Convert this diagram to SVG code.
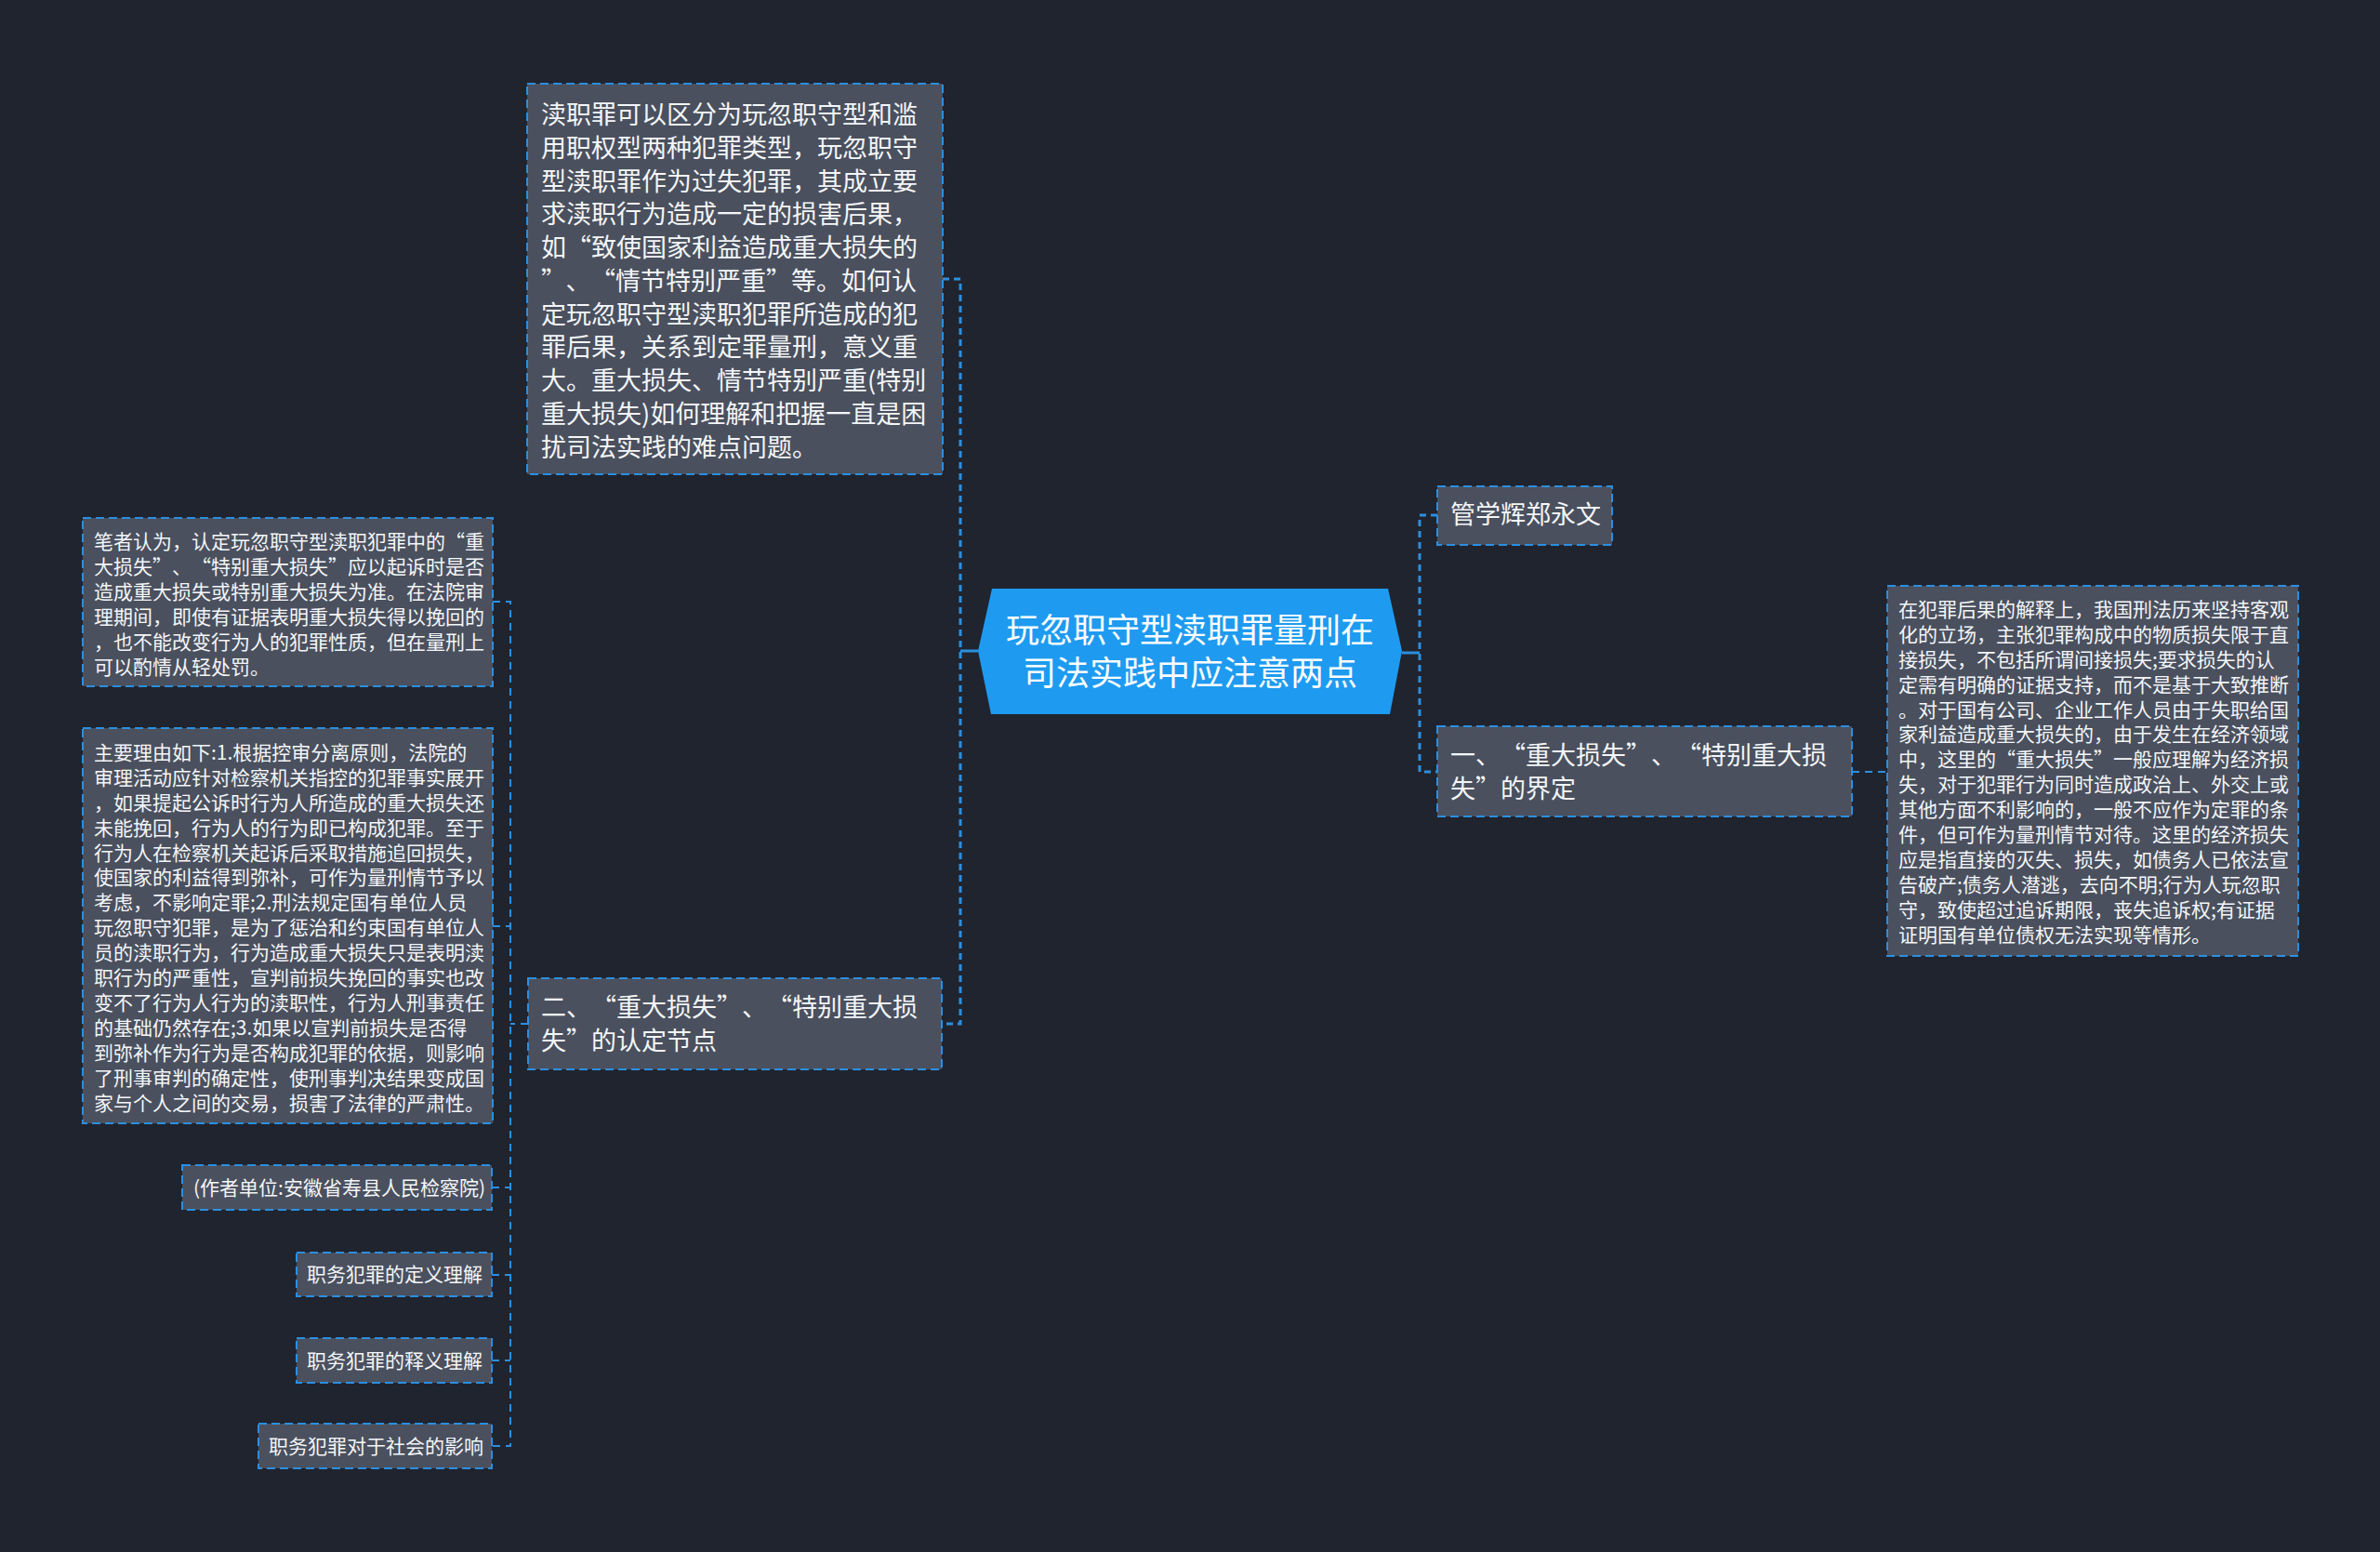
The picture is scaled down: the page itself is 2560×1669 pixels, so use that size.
<svg xmlns="http://www.w3.org/2000/svg" width="2560" height="1669" viewBox="0 0 2560 1669">
<style>
.bg{fill:#20242f}
.node rect{fill:#4a505e;stroke:#2b8fe0;stroke-width:2;stroke-dasharray:9 5}
.t{font-family:"Noto Sans CJK SC","Noto Sans",sans-serif;fill:#f4f6f8}
.big{font-size:27px}
.small{font-size:21px}
.ctr{font-family:"Noto Sans CJK SC","Noto Sans",sans-serif;fill:#ffffff;font-size:36px;text-anchor:middle}
.main{fill:none;stroke:#2b8fe0;stroke-width:3;stroke-dasharray:7 5}
.solid{fill:none;stroke:#2b8fe0;stroke-width:3}
.sub{fill:none;stroke:#2b8fe0;stroke-width:2;stroke-dasharray:8 6}
</style>
<rect class="bg" x="0" y="0" width="2560" height="1669"/>
<g id="connectors">
<path class="solid" d="M1052,700 H1033"/>
<path class="main" d="M1014,300 H1033 V1101 H1013"/>
<path class="solid" d="M1508,702 H1527"/>
<path class="main" d="M1546,554 H1527 V830 H1546"/>
<path class="sub" d="M1992,830 H2030"/>
<path class="sub" d="M568,1101 H549"/>
<path class="sub" d="M530,647 H549 V1555 H529"/>
<path class="sub" d="M530,996 H549"/>
<path class="sub" d="M529,1277 H549"/>
<path class="sub" d="M529,1371 H549"/>
<path class="sub" d="M529,1463 H549"/>
</g>
<g id="center">
<polygon points="1052,700 1067,633 1493,633 1508,700 1495,768 1066,768" fill="#1e9bf0"/>
<text class="ctr"><tspan x="1280" y="691">玩忽职守型渎职罪量刑在</tspan><tspan x="1280" y="737">司法实践中应注意两点</tspan></text>
</g>
<g id="n-top" class="node">
<rect x="567" y="90" width="447" height="420"/>
<text class="t big"><tspan x="582" y="133">渎职罪可以区分为玩忽职守型和滥</tspan><tspan x="582" y="169">用职权型两种犯罪类型，玩忽职守</tspan><tspan x="582" y="205">型渎职罪作为过失犯罪，其成立要</tspan><tspan x="582" y="240">求渎职行为造成一定的损害后果，</tspan><tspan x="582" y="276">如“致使国家利益造成重大损失的</tspan><tspan x="582" y="312">”<tspan dx="13">、</tspan><tspan dx="13">“</tspan>情节特别严重”等。如何认</tspan><tspan x="582" y="348">定玩忽职守型渎职犯罪所造成的犯</tspan><tspan x="582" y="383">罪后果，关系到定罪量刑，意义重</tspan><tspan x="582" y="419">大。重大损失、情节特别严重(特别</tspan><tspan x="582" y="455">重大损失)如何理解和把握一直是困</tspan><tspan x="582" y="491">扰司法实践的难点问题。</tspan></text>
</g>
<g id="n-two" class="node">
<rect x="568" y="1052" width="445" height="98"/>
<text class="t big"><tspan x="582" y="1093">二、<tspan dx="13.5">“</tspan>重大损失”<tspan dx="13.5">、</tspan><tspan dx="13.5">“</tspan>特别重大损</tspan><tspan x="582" y="1129">失”的认定节点</tspan></text>
</g>
<g id="n-author" class="node">
<rect x="1546" y="523" width="188" height="63"/>
<text class="t big"><tspan x="1560" y="563">管学辉郑永文</tspan></text>
</g>
<g id="n-one" class="node">
<rect x="1546" y="781" width="446" height="97"/>
<text class="t big"><tspan x="1560" y="822">一、<tspan dx="13.5">“</tspan>重大损失”<tspan dx="13.5">、</tspan><tspan dx="13.5">“</tspan>特别重大损</tspan><tspan x="1560" y="858">失”的界定</tspan></text>
</g>
<g id="n-one-detail" class="node">
<rect x="2030" y="630" width="442" height="398"/>
<text class="t small"><tspan x="2042" y="663">在犯罪后果的解释上，我国刑法历来坚持客观</tspan><tspan x="2042" y="690">化的立场，主张犯罪构成中的物质损失限于直</tspan><tspan x="2042" y="717">接损失，不包括所谓间接损失;要求损失的认</tspan><tspan x="2042" y="744">定需有明确的证据支持，而不是基于大致推断</tspan><tspan x="2042" y="771">。对于国有公司、企业工作人员由于失职给国</tspan><tspan x="2042" y="797">家利益造成重大损失的，由于发生在经济领域</tspan><tspan x="2042" y="824">中，这里的“重大损失”一般应理解为经济损</tspan><tspan x="2042" y="851">失，对于犯罪行为同时造成政治上、外交上或</tspan><tspan x="2042" y="878">其他方面不利影响的，一般不应作为定罪的条</tspan><tspan x="2042" y="905">件，但可作为量刑情节对待。这里的经济损失</tspan><tspan x="2042" y="932">应是指直接的灭失、损失，如债务人已依法宣</tspan><tspan x="2042" y="959">告破产;债务人潜逃，去向不明;行为人玩忽职</tspan><tspan x="2042" y="986">守，致使超过追诉期限，丧失追诉权;有证据</tspan><tspan x="2042" y="1013">证明国有单位债权无法实现等情形。</tspan></text>
</g>
<g id="n-opinion" class="node">
<rect x="89" y="557" width="441" height="181"/>
<text class="t small"><tspan x="101" y="590">笔者认为，认定玩忽职守型渎职犯罪中的“重</tspan><tspan x="101" y="617">大损失”<tspan dx="10.5">、</tspan><tspan dx="10.5">“</tspan>特别重大损失”应以起诉时是否</tspan><tspan x="101" y="644">造成重大损失或特别重大损失为准。在法院审</tspan><tspan x="101" y="671">理期间，即使有证据表明重大损失得以挽回的</tspan><tspan x="101" y="698">，也不能改变行为人的犯罪性质，但在量刑上</tspan><tspan x="101" y="725">可以酌情从轻处罚。</tspan></text>
</g>
<g id="n-reasons" class="node">
<rect x="89" y="783" width="441" height="425"/>
<text class="t small"><tspan x="101" y="817">主要理由如下:1.根据控审分离原则，法院的</tspan><tspan x="101" y="844">审理活动应针对检察机关指控的犯罪事实展开</tspan><tspan x="101" y="871">，如果提起公诉时行为人所造成的重大损失还</tspan><tspan x="101" y="898">未能挽回，行为人的行为即已构成犯罪。至于</tspan><tspan x="101" y="925">行为人在检察机关起诉后采取措施追回损失，</tspan><tspan x="101" y="951">使国家的利益得到弥补，可作为量刑情节予以</tspan><tspan x="101" y="978">考虑，不影响定罪;2.刑法规定国有单位人员</tspan><tspan x="101" y="1005">玩忽职守犯罪，是为了惩治和约束国有单位人</tspan><tspan x="101" y="1032">员的渎职行为，行为造成重大损失只是表明渎</tspan><tspan x="101" y="1059">职行为的严重性，宣判前损失挽回的事实也改</tspan><tspan x="101" y="1086">变不了行为人行为的渎职性，行为人刑事责任</tspan><tspan x="101" y="1113">的基础仍然存在;3.如果以宣判前损失是否得</tspan><tspan x="101" y="1140">到弥补作为行为是否构成犯罪的依据，则影响</tspan><tspan x="101" y="1167">了刑事审判的确定性，使刑事判决结果变成国</tspan><tspan x="101" y="1194">家与个人之间的交易，损害了法律的严肃性。</tspan></text>
</g>
<g id="n-unit" class="node">
<rect x="196" y="1253" width="333" height="48"/>
<text class="t small"><tspan x="208" y="1285">(作者单位:安徽省寿县人民检察院)</tspan></text>
</g>
<g id="n-def" class="node">
<rect x="319" y="1347" width="210" height="47"/>
<text class="t small"><tspan x="330" y="1378">职务犯罪的定义理解</tspan></text>
</g>
<g id="n-interp" class="node">
<rect x="319" y="1439" width="210" height="48"/>
<text class="t small"><tspan x="330" y="1471">职务犯罪的释义理解</tspan></text>
</g>
<g id="n-impact" class="node">
<rect x="278" y="1531" width="251" height="48"/>
<text class="t small"><tspan x="289" y="1563">职务犯罪对于社会的影响</tspan></text>
</g>
</svg>
